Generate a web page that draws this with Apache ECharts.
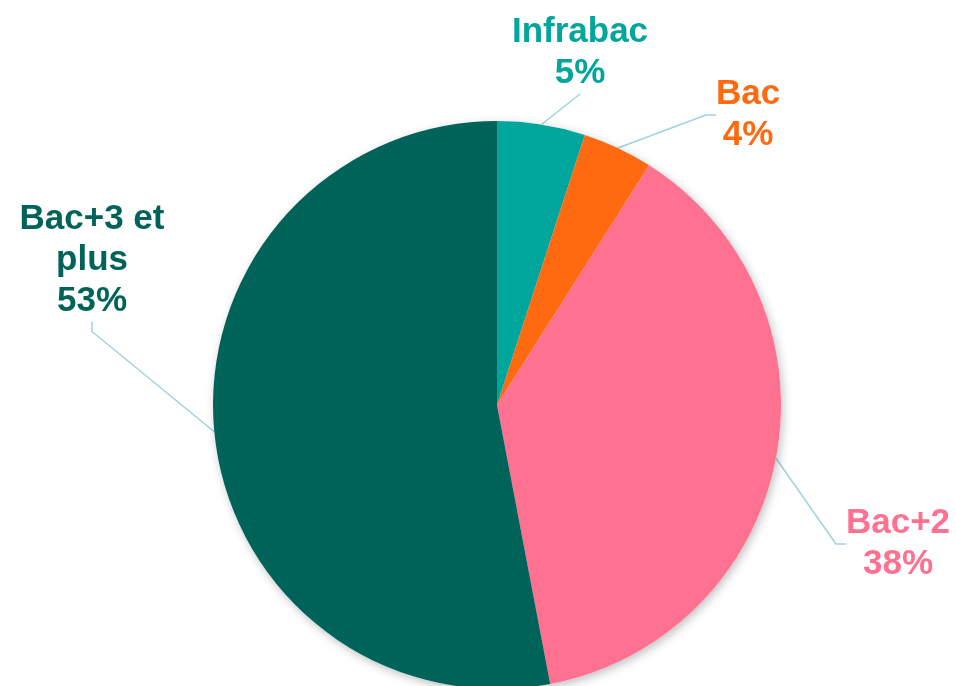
<!DOCTYPE html>
<html>
<head>
<meta charset="utf-8">
<script src="https://cdn.jsdelivr.net/npm/echarts@6/dist/echarts.min.js"></script>
<style>
  html, body { margin: 0; padding: 0; background: #fff; }
  #chart { width: 956px; height: 686px; }
</style>
</head>
<body>
<div id="chart"></div>
<script>
// values
const categories = ['Infrabac', 'Bac', 'Bac+2', 'Bac+3 et\nplus'];
const shares = [5, 4, 38, 53];
const colors = ['#00A59B', '#FF6A10', '#FF7190', '#00635A'];

// where each label block sits (centre)
const labelSpots = [
  [580, 53],
  [748, 115],
  [898, 544],
  [92, 260]
];

const chart = echarts.init(document.getElementById('chart'));

const pieData = categories.map((name, i) => ({
  name,
  value: shares[i],
  itemStyle: { color: colors[i] },
  label: { color: colors[i] },
  labelLine: i === 0 ? { length2: 0 } : undefined
}));

chart.setOption({
  animation: false,
  series: [
    {
      // shadow only, sits under the real pie
      type: 'pie',
      silent: true,
      center: [497, 405],
      radius: 284,
      startAngle: 90,
      label: { show: false },
      labelLine: { show: false },
      itemStyle: {
        color: '#fff',
        shadowBlur: 10,
        shadowColor: 'rgba(0,0,0,0.25)',
        shadowOffsetX: 2,
        shadowOffsetY: 3
      },
      data: shares.map((v, i) => ({ name: categories[i], value: v }))
    },
    {
      type: 'pie',
      center: [497, 405],
      radius: 284,
      startAngle: 90,
      clockwise: true,
      itemStyle: { borderWidth: 0 },
      label: {
        show: true,
        formatter: '{b}\n{d}%',
        fontFamily: 'Liberation Sans, Arial, sans-serif',
        fontWeight: 'bold',
        fontSize: 35,
        lineHeight: 41,
        align: 'center'
      },
      labelLine: {
        show: true,
        length: 20,
        length2: 10,
        lineStyle: { color: '#9ED3DE', width: 1.5 }
      },
      labelLayout: (p) => ({
        x: labelSpots[p.dataIndex][0],
        y: labelSpots[p.dataIndex][1],
        align: 'center',
        verticalAlign: 'middle'
      }),
      data: pieData
    }
  ]
});
</script>
</body>
</html>
